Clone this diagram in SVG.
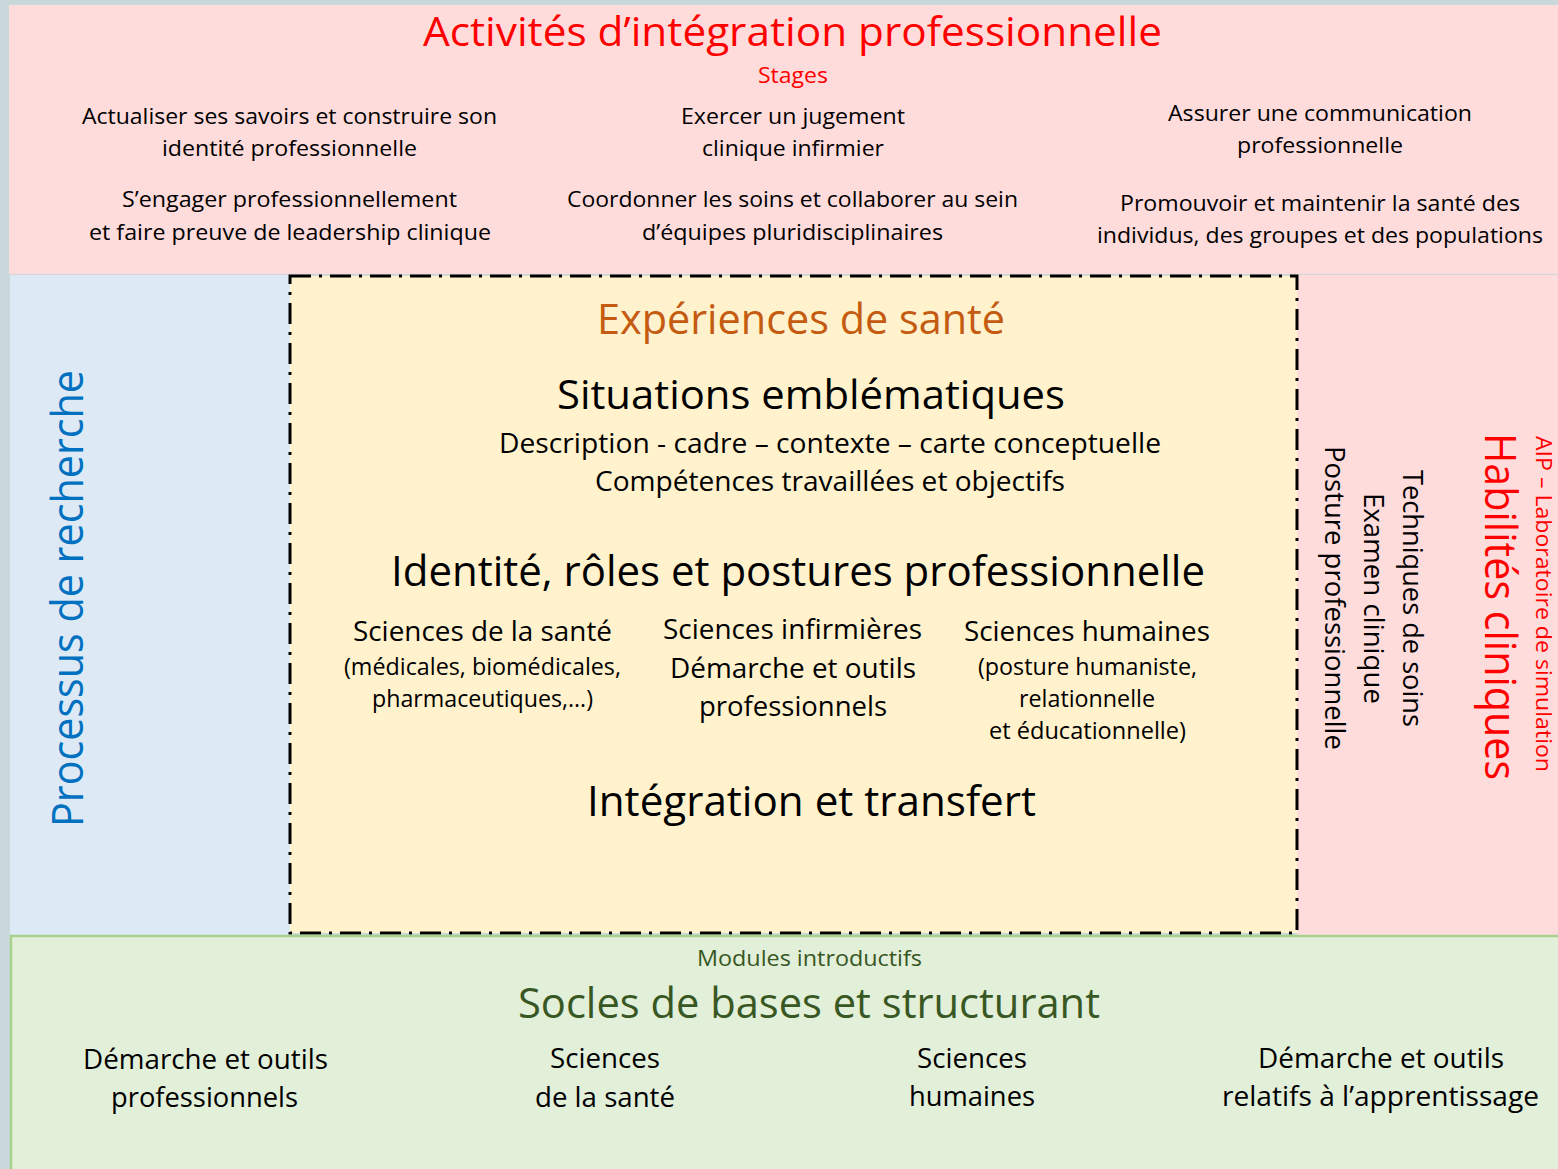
<svg xmlns="http://www.w3.org/2000/svg" width="1558" height="1169" viewBox="0 0 1558 1169">
<style>
text{font-family:"Open Sans","Noto Sans","DejaVu Sans",sans-serif;text-anchor:middle;fill:#000}
.red{fill:#ff0000}
.org{fill:#c55a11}
.blu{fill:#0070c0}
.grn{fill:#385723}
.h1{font-size:41px}
.h2{font-size:42px}
.m{font-size:27px}
.s{font-size:22.5px}
.p{font-size:23px}
</style>
<rect x="0" y="0" width="1558" height="1169" fill="#c8d8db"/>
<g id="aip">
<rect x="9" y="5" width="1549" height="269" fill="#ffdcdc"/>
<line x1="9" y1="274.5" x2="1558" y2="274.5" stroke="#d6d6d6" stroke-width="1.5"/>
<text class="h1 red" x="792.5" y="46" textLength="739" lengthAdjust="spacingAndGlyphs">Activités d’intégration professionnelle</text>
<text class="s red" x="793" y="83" textLength="70" lengthAdjust="spacingAndGlyphs">Stages</text>
<text class="s" x="289.5" y="124" textLength="415" lengthAdjust="spacingAndGlyphs">Actualiser ses savoirs et construire son</text>
<text class="s" x="289.5" y="156" textLength="255" lengthAdjust="spacingAndGlyphs">identité professionnelle</text>
<text class="s" x="289.5" y="207" textLength="335" lengthAdjust="spacingAndGlyphs">S’engager professionnellement</text>
<text class="s" x="290" y="240" textLength="402" lengthAdjust="spacingAndGlyphs">et faire preuve de leadership clinique</text>
<text class="s" x="793" y="124" textLength="224" lengthAdjust="spacingAndGlyphs">Exercer un jugement</text>
<text class="s" x="793" y="156" textLength="182" lengthAdjust="spacingAndGlyphs">clinique infirmier</text>
<text class="s" x="792.5" y="207" textLength="451" lengthAdjust="spacingAndGlyphs">Coordonner les soins et collaborer au sein</text>
<text class="s" x="792.5" y="240" textLength="301" lengthAdjust="spacingAndGlyphs">d’équipes pluridisciplinaires</text>
<text class="s" x="1320" y="121" textLength="304" lengthAdjust="spacingAndGlyphs">Assurer une communication</text>
<text class="s" x="1320" y="153" textLength="166" lengthAdjust="spacingAndGlyphs">professionnelle</text>
<text class="s" x="1320" y="211" textLength="400" lengthAdjust="spacingAndGlyphs">Promouvoir et maintenir la santé des</text>
<text class="s" x="1320" y="243" textLength="446" lengthAdjust="spacingAndGlyphs">individus, des groupes et des populations</text>
</g>
<g id="recherche">
<rect x="10" y="275" width="280" height="660" fill="#ddeaf6"/>
<text class="blu" font-size="43" transform="translate(83,598.5) rotate(-90)" x="0" y="0" textLength="457" lengthAdjust="spacingAndGlyphs">Processus de recherche</text>
</g>
<g id="habiletes">
<rect x="1297" y="275" width="261" height="660" fill="#ffdcdc"/>
<text class="red" font-size="21" transform="translate(1536,604) rotate(90)" textLength="336" lengthAdjust="spacingAndGlyphs">AIP – Laboratoire de simulation</text>
<text class="red" font-size="44" transform="translate(1485,606.5) rotate(90)" textLength="347" lengthAdjust="spacingAndGlyphs">Habilités cliniques</text>
<text font-size="28" transform="translate(1403,598.5) rotate(90)" textLength="257" lengthAdjust="spacingAndGlyphs">Techniques de soins</text>
<text font-size="28" transform="translate(1364,598.5) rotate(90)" textLength="211" lengthAdjust="spacingAndGlyphs">Examen clinique</text>
<text font-size="28" transform="translate(1325,598) rotate(90)" textLength="304" lengthAdjust="spacingAndGlyphs">Posture professionnelle</text>
</g>
<g id="experiences">
<rect x="290" y="276" width="1007" height="657" fill="#fff2cc" stroke="#000" stroke-width="3" stroke-dasharray="21 8 3 8"/>
<text class="h2 org" x="801" y="334" textLength="408" lengthAdjust="spacingAndGlyphs">Expériences de santé</text>
<text class="h1" x="811" y="409" textLength="508" lengthAdjust="spacingAndGlyphs">Situations emblématiques</text>
<text class="m" x="830" y="453" textLength="662" lengthAdjust="spacingAndGlyphs">Description - cadre – contexte – carte conceptuelle</text>
<text class="m" x="830" y="491" textLength="470" lengthAdjust="spacingAndGlyphs">Compétences travaillées et objectifs</text>
<text class="h2" x="798" y="586" textLength="814" lengthAdjust="spacingAndGlyphs">Identité, rôles et postures professionnelle</text>
<text class="m" x="482.5" y="641" textLength="259" lengthAdjust="spacingAndGlyphs">Sciences de la santé</text>
<text class="p" x="482.5" y="675" textLength="277" lengthAdjust="spacingAndGlyphs">(médicales, biomédicales,</text>
<text class="p" x="482.5" y="707" textLength="221" lengthAdjust="spacingAndGlyphs">pharmaceutiques,…)</text>
<text class="m" x="792.5" y="639" textLength="259" lengthAdjust="spacingAndGlyphs">Sciences infirmières</text>
<text class="m" x="793" y="678" textLength="246" lengthAdjust="spacingAndGlyphs">Démarche et outils</text>
<text class="m" x="793" y="716" textLength="188" lengthAdjust="spacingAndGlyphs">professionnels</text>
<text class="m" x="1087" y="641" textLength="246" lengthAdjust="spacingAndGlyphs">Sciences humaines</text>
<text class="p" x="1087.5" y="675" textLength="219" lengthAdjust="spacingAndGlyphs">(posture humaniste,</text>
<text class="p" x="1087" y="707" textLength="136" lengthAdjust="spacingAndGlyphs">relationnelle</text>
<text class="p" x="1087.5" y="739" textLength="197" lengthAdjust="spacingAndGlyphs">et éducationnelle)</text>
<text class="h2" x="811.5" y="816" textLength="449" lengthAdjust="spacingAndGlyphs">Intégration et transfert</text>
</g>
<g id="socles">
<rect x="11" y="936" width="1549" height="236" fill="#e2efd9" stroke="#a9d18e" stroke-width="2.5"/>
<text class="s grn" x="809.5" y="966" textLength="225" lengthAdjust="spacingAndGlyphs">Modules introductifs</text>
<text class="h2 grn" x="809" y="1018" textLength="582" lengthAdjust="spacingAndGlyphs">Socles de bases et structurant</text>
<text class="m" x="205.5" y="1069" textLength="245" lengthAdjust="spacingAndGlyphs">Démarche et outils</text>
<text class="m" x="204.5" y="1107" textLength="187" lengthAdjust="spacingAndGlyphs">professionnels</text>
<text class="m" x="605" y="1068" textLength="110" lengthAdjust="spacingAndGlyphs">Sciences</text>
<text class="m" x="605" y="1107" textLength="140" lengthAdjust="spacingAndGlyphs">de la santé</text>
<text class="m" x="972" y="1068" textLength="110" lengthAdjust="spacingAndGlyphs">Sciences</text>
<text class="m" x="972" y="1106" textLength="126" lengthAdjust="spacingAndGlyphs">humaines</text>
<text class="m" x="1381" y="1068" textLength="246" lengthAdjust="spacingAndGlyphs">Démarche et outils</text>
<text class="m" x="1380.5" y="1106" textLength="317" lengthAdjust="spacingAndGlyphs">relatifs à l’apprentissage</text>
</g>
<g id="connectors"/>
</svg>
